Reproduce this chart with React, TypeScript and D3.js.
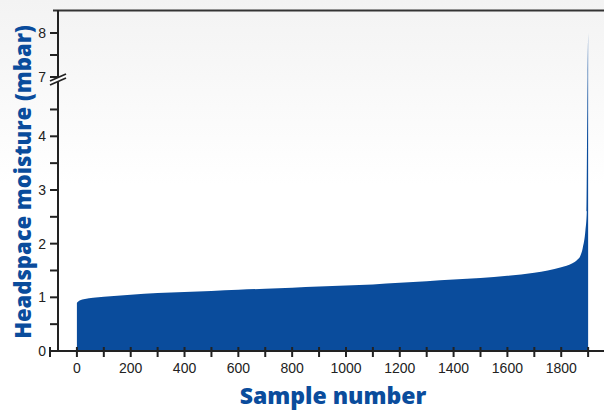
import React from "react";
import * as d3 from "d3";

const sampleNumbers = [0, 10, 30, 60, 100, 200, 300, 400, 500, 600, 700, 800, 900, 1000, 1100, 1200, 1300, 1400, 1500, 1600, 1700, 1750, 1800, 1840, 1860, 1870, 1880, 1890, 1895, 1897, 1898, 1900];
const moistureValues = [0.9, 0.94, 0.97, 0.99, 1.01, 1.05, 1.08, 1.1, 1.12, 1.14, 1.16, 1.18, 1.2, 1.22, 1.24, 1.27, 1.3, 1.33, 1.36, 1.4, 1.46, 1.5, 1.56, 1.63, 1.7, 1.76, 1.92, 2.25, 2.6, 4.5, 7.0, 8.0];

const xTickValues = d3.range(-100, 1901, 100);
const xLabelValues = [0, 200, 400, 600, 800, 1000, 1200, 1400, 1600, 1800];
const yTicksLower = [0, 0.5, 1, 1.5, 2, 2.5, 3, 3.5, 4, 4.5];
const yLabelsLower = [0, 1, 2, 3, 4];
const yTicksUpper = [7, 7.5, 8];
const yLabelsUpper = [7, 8];

const W = 604;
const H = 410;
const BLUE = "#0a4c9c";

export default function App() {
  const x = d3.scaleLinear().domain([-100, 1959]).range([50, 604]);
  const y = d3.scaleLinear().domain([0, 4.9, 7, 8.5]).range([351, 88, 77, 11]);
  const axisX = 58;
  const axisY = 351;

  const pts = sampleNumbers.map((s, i) => [s, moistureValues[i]] as [number, number]);
  const area = d3
    .area<[number, number]>()
    .x((d) => x(d[0]))
    .y0(axisY)
    .y1((d) => y(d[1]))
    .curve(d3.curveMonotoneX);

  return (
    <svg width={W} height={H} style={{ position: "absolute", left: 0, top: 0 }}>
      <defs>
        <linearGradient id="bg" x1="0" y1="0" x2="0" y2="1">
          <stop offset="0" stopColor="#f3f3f3" />
          <stop offset="0.45" stopColor="#ffffff" />
          <stop offset="1" stopColor="#ffffff" />
        </linearGradient>
      </defs>
      <rect x={0} y={0} width={W} height={H} fill="url(#bg)" />
      <path d={area(pts) || ""} fill={BLUE} />
      {/* top frame line */}
      <line x1={53} x2={W} y1={10.5} y2={10.5} stroke="#333" strokeWidth={2} />
      {/* y axis */}
      <line x1={axisX} x2={axisX} y1={10} y2={axisY} stroke="#222" strokeWidth={2} />
      {/* x axis */}
      <line x1={50} x2={W} y1={axisY} y2={axisY} stroke="#222" strokeWidth={2} />
      {xTickValues.map((t) => (
        <line key={"xt" + t} x1={x(t)} x2={x(t)} y1={axisY - 4} y2={axisY + 6} stroke="#222" strokeWidth={2} />
      ))}
      {xLabelValues.map((t) => (
        <text key={"xl" + t} x={x(t)} y={373} textAnchor="middle" fontFamily="Liberation Sans, Arial, sans-serif" fontSize={14} fill="#222">
          {t}
        </text>
      ))}
      {[...yTicksLower, ...yTicksUpper].map((t) => (
        <line key={"yt" + t} x1={50} x2={axisX} y1={y(t)} y2={y(t)} stroke="#222" strokeWidth={2} />
      ))}
      {[...yLabelsLower, ...yLabelsUpper].map((t) => (
        <text key={"yl" + t} x={46} y={y(t)} dy="0.36em" textAnchor="end" fontFamily="Liberation Sans, Arial, sans-serif" fontSize={14} fill="#222">
          {t}
        </text>
      ))}
      {/* axis break */}
      <polygon points={`${axisX - 8},${81} ${axisX + 8},${74} ${axisX + 8},${78} ${axisX - 8},${85}`} fill="#fff" />
      <line x1={axisX - 8} x2={axisX + 8} y1={81} y2={74} stroke="#222" strokeWidth={1.8} />
      <line x1={axisX - 8} x2={axisX + 8} y1={85} y2={78} stroke="#222" strokeWidth={1.8} />
      <text
        transform={`translate(31,182) rotate(-90)`}
        textAnchor="middle"
        fontFamily="Open Sans, sans-serif"
        fontWeight={800}
        fontSize={22}
        fill={BLUE}
      >
        Headspace moisture (mbar)
      </text>
      <text x={333} y={404} textAnchor="middle" fontFamily="Open Sans, sans-serif" fontWeight={800} fontSize={23} fill={BLUE}>
        Sample number
      </text>
    </svg>
  );
}
